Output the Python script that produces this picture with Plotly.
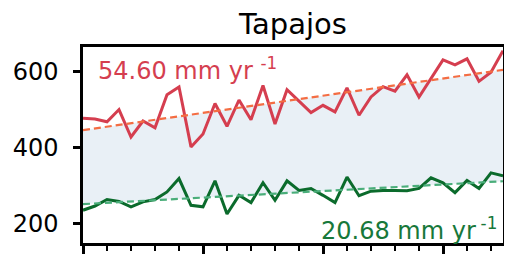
import plotly.graph_objects as go

years = list(range(1980, 2016))
precip_max = [477, 475, 468, 500, 428, 470, 452, 539, 559, 402,
              436, 516, 456, 525, 473, 563, 462, 552, 522, 492,
              511, 494, 557, 485, 533, 560, 548, 591, 533, 580,
              630, 617, 633, 574, 598, 654]
precip_min = [236, 247, 264, 259, 245, 258, 264, 284, 319, 249,
              245, 313, 226, 275, 256, 308, 262, 313, 288, 293,
              275, 256, 323, 274, 286, 288, 288, 287, 293, 321,
              308, 282, 314, 293, 334, 326]
trend_years = [1980, 2015]
trend_max = [446, 604]
trend_min = [252, 312]
label_max = "54.60 mm yr <sup>-1</sup>"
label_min = "20.68 mm yr\u2009<sup>-1</sup>"
title = "Tapajos"

RED = "#d53e4f"
ORANGE = "#f46d43"
DGREEN = "#0b6b2c"
LGREEN = "#4aae7a"
FONT = "DejaVu Sans"

# page body has an 8px default margin; figure sized to fill the rest
W, H = 504, 252
ML, MR, MT, MB = 75, 9, 39, 15

fig = go.Figure()
fig.add_trace(go.Scatter(x=trend_years, y=trend_min, mode="lines",
                         line=dict(color="rgba(0,0,0,0)", width=0),
                         showlegend=False, hoverinfo="skip"))
fig.add_trace(go.Scatter(x=trend_years, y=trend_max, mode="lines",
                         line=dict(color="rgba(0,0,0,0)", width=0),
                         fill="tonexty", fillcolor="rgba(70,130,180,0.12)",
                         showlegend=False, hoverinfo="skip"))
fig.add_trace(go.Scatter(x=years, y=precip_max, mode="lines",
                         line=dict(color=RED, width=3), showlegend=False))
fig.add_trace(go.Scatter(x=years, y=precip_min, mode="lines",
                         line=dict(color=DGREEN, width=3), showlegend=False))
fig.add_trace(go.Scatter(x=trend_years, y=trend_max, mode="lines",
                         line=dict(color=ORANGE, width=2.2, dash="7px,4px"),
                         showlegend=False))
fig.add_trace(go.Scatter(x=trend_years, y=trend_min, mode="lines",
                         line=dict(color=LGREEN, width=2.2, dash="7px,4px"),
                         showlegend=False))

fig.add_annotation(x=0.031, y=0.89, xref="paper", yref="paper",
                   text=label_max, showarrow=False, xanchor="left", yanchor="middle",
                   font=dict(family=FONT, size=24, color=RED))
fig.add_annotation(x=0.99, y=0.07, xref="paper", yref="paper",
                   text=label_min, showarrow=False, xanchor="right", yanchor="middle",
                   font=dict(family=FONT, size=24, color="#17783a"))

fig.update_layout(
    width=W, height=H,
    margin=dict(l=ML, r=MR, t=MT, b=MB),
    paper_bgcolor="white", plot_bgcolor="white",
    title=dict(text=title, x=(ML + (W - MR)) / 2 / W, xanchor="center",
               y=1 - 16 / H, yanchor="middle", yref="container",
               font=dict(family=FONT, size=29, color="black")),
    font=dict(family=FONT, color="black"),
)
fig.update_xaxes(range=[1980, 2015], showgrid=False, zeroline=False,
                 showline=True, linecolor="black", linewidth=2.5, mirror=True,
                 ticks="outside", tickmode="linear", tick0=1980, dtick=10,
                 ticklen=8, tickwidth=2.5, tickcolor="black", showticklabels=False,
                 minor=dict(ticks="outside", tickmode="linear", tick0=1980, dtick=2,
                            ticklen=5, tickwidth=1.5, tickcolor="black"))
fig.update_yaxes(range=[150, 664], showgrid=False, zeroline=False, automargin=False,
                 showline=True, linecolor="black", linewidth=2.5, mirror=True,
                 ticks="outside", tickvals=[200, 400, 600], ticklen=7, tickwidth=2.5,
                 tickcolor="black", ticklabelstandoff=10,
                 tickfont=dict(family=FONT, size=24, color="black"))

fig.write_html("out.html")
